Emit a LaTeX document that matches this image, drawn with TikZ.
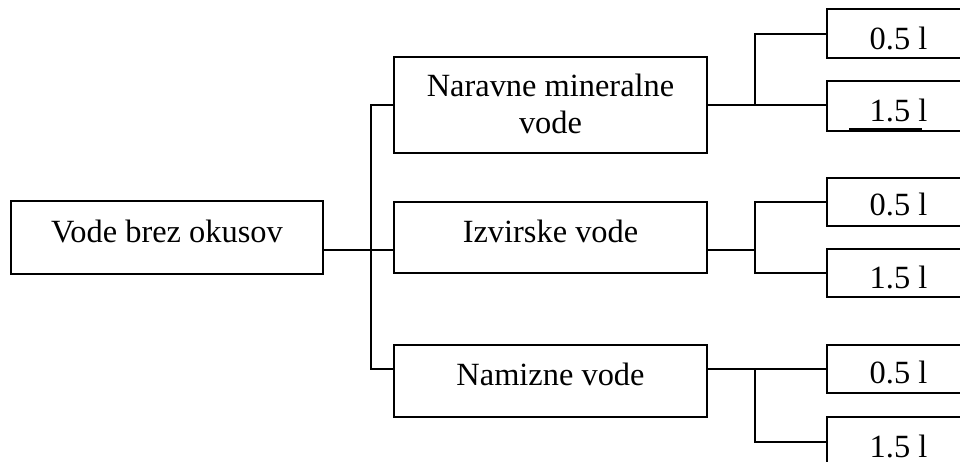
\documentclass[tikz,border=0pt]{standalone}
\usepackage{fontspec}
\setmainfont{Liberation Serif}
\begin{document}
\begin{tikzpicture}[x=1pt,y=-1pt,
  box/.style={draw, line width=2pt, rectangle, inner sep=0pt},
  conn/.style={draw, line width=2pt},
  txt/.style={font=\fontsize{32.4}{38}\selectfont, inner sep=0pt, anchor=base}]
\useasboundingbox (0,0) rectangle (960,461);
\clip (0,0) rectangle (960,461);
% boxes
\node[box, minimum width=312pt, minimum height=73pt] (root) at (167,237.5) {};
\node[box, minimum width=313pt, minimum height=96pt] (m1) at (550.5,105) {};
\node[box, minimum width=313pt, minimum height=71pt] (m2) at (550.5,237.5) {};
\node[box, minimum width=313pt, minimum height=72pt] (m3) at (550.5,381) {};
\node[box, minimum width=142pt, minimum height=49pt] (r11) at (898,33.5) {};
\node[box, minimum width=142pt, minimum height=50pt] (r12) at (898,105.5) {};
\node[box, minimum width=142pt, minimum height=48pt] (r21) at (898,201.5) {};
\node[box, minimum width=142pt, minimum height=48pt] (r22) at (898,273) {};
\node[box, minimum width=142pt, minimum height=48pt] (r31) at (898,369) {};
\node[box, minimum width=142pt, minimum height=50pt] (r32) at (898,442) {};
% texts
\node[txt] (t0) at (167,242) {Vode brez okusov};
\node[txt] (t1a) at (550.5,96) {Naravne mineralne};
\node[txt] (t1b) at (550.5,133) {vode};
\node[txt] (t2) at (550.5,242) {Izvirske vode};
\node[txt] (t3) at (550.5,385) {Namizne vode};
\node[txt] (t11) at (898.5,49) {0.5 l};
\node[txt] (t12) at (898.5,121) {1.5 l};
\node[txt] (t21) at (898.5,215) {0.5 l};
\node[txt] (t22) at (898.5,288) {1.5 l};
\node[txt] (t31) at (898.5,383) {0.5 l};
\node[txt] (t32) at (898.5,457) {1.5 l};
% junctions
\coordinate (j0) at (371,249.5);
\coordinate (j1) at (371,105);
\coordinate (j3) at (371,369);
\coordinate (k1) at (755,105);
\coordinate (k2) at (755,249.5);
\coordinate (k3) at (755,369);
% left tree
\draw[conn] (root.east |- j0) -- (m2.west |- j0);
\draw[conn] (m1.west) -- (j1) -- (j3) -- (m3.west |- j3);
% right groups
\draw[conn] (m1.east) -- (r12.west |- k1);
\draw[conn] (r11.west) -| (k1);
\draw[conn] (m2.east |- k2) -- (k2);
\draw[conn] (r21.west) -| (k2) |- (r22.west);
\draw[conn] (m3.east |- k3) -- (r31.west);
\draw[conn] (k3) |- (r32.west);
% stray underline in second box
\draw[conn] ([xshift=23pt,yshift=3pt]r12.south west) -- ([xshift=96pt,yshift=3pt]r12.south west);
\end{tikzpicture}
\end{document}
